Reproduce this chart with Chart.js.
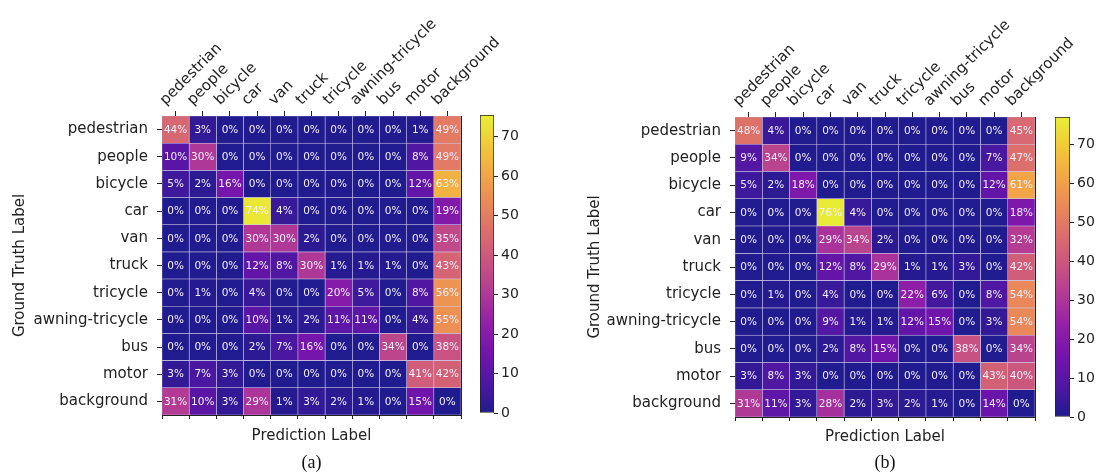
<!DOCTYPE html>
<html>
<head>
<meta charset="utf-8">
<script src="https://cdn.jsdelivr.net/npm/chart.js@4.4.1/dist/chart.umd.min.js"></script>
<style>
    body { margin: 0; background: #fff; }
    #wrap { position: relative; width: 1100px; height: 476px; overflow: hidden; }
    canvas { position: absolute; top: 0; }
</style>
</head>
<body>
<div id="wrap">
    <canvas id="matA" width="520" height="476" style="left:0px"></canvas>
    <canvas id="barA" width="60" height="476" style="left:470px"></canvas>
    <canvas id="matB" width="540" height="476" style="left:560px"></canvas>
    <canvas id="barB" width="55" height="476" style="left:1045px"></canvas>
</div>
<script>
// Data
const categories = ['pedestrian', 'people', 'bicycle', 'car', 'van', 'truck', 'tricycle',
    'awning-tricycle', 'bus', 'motor', 'background'];

// rows = ground truth, columns = prediction (percent)
const valuesA = [
    [44, 3, 0, 0, 0, 0, 0, 0, 0, 1, 49],
    [10, 30, 0, 0, 0, 0, 0, 0, 0, 8, 49],
    [5, 2, 16, 0, 0, 0, 0, 0, 0, 12, 63],
    [0, 0, 0, 74, 4, 0, 0, 0, 0, 0, 19],
    [0, 0, 0, 30, 30, 2, 0, 0, 0, 0, 35],
    [0, 0, 0, 12, 8, 30, 1, 1, 1, 0, 43],
    [0, 1, 0, 4, 0, 0, 20, 5, 0, 8, 56],
    [0, 0, 0, 10, 1, 2, 11, 11, 0, 4, 55],
    [0, 0, 0, 2, 7, 16, 0, 0, 34, 0, 38],
    [3, 7, 3, 0, 0, 0, 0, 0, 0, 41, 42],
    [31, 10, 3, 29, 1, 3, 2, 1, 0, 15, 0]
];

const valuesB = [
    [48, 4, 0, 0, 0, 0, 0, 0, 0, 0, 45],
    [9, 34, 0, 0, 0, 0, 0, 0, 0, 7, 47],
    [5, 2, 18, 0, 0, 0, 0, 0, 0, 12, 61],
    [0, 0, 0, 76, 4, 0, 0, 0, 0, 0, 18],
    [0, 0, 0, 29, 34, 2, 0, 0, 0, 0, 32],
    [0, 0, 0, 12, 8, 29, 1, 1, 3, 0, 42],
    [0, 1, 0, 4, 0, 0, 22, 6, 0, 8, 54],
    [0, 0, 0, 9, 1, 1, 12, 15, 0, 3, 54],
    [0, 0, 0, 2, 8, 15, 0, 0, 38, 0, 34],
    [3, 8, 3, 0, 0, 0, 0, 0, 0, 43, 40],
    [31, 11, 3, 28, 2, 3, 2, 1, 0, 14, 0]
];

const colorbarTicks = [0, 10, 20, 30, 40, 50, 60, 70];
const colorMaxA = 75.5;
const colorMaxB = 77;

// plasma colormap
const plasmaStops = ['#0d0887', '#41049d', '#6a00a8', '#8f0da4', '#b12a90', '#cc4778',
    '#e16462', '#f2844b', '#fca636', '#fcce25', '#f0f921'];
// the scanned figure is a bit washed out, so blend a little grey in
const haze = [170, 165, 195];
const hazeAmount = 0.12;

function hexToRgb(h) {
    return [1, 3, 5].map(i => parseInt(h.slice(i, i + 2), 16));
}

function soften(rgb) {
    return rgb.map((v, k) => Math.round(v * (1 - hazeAmount) + haze[k] * hazeAmount));
}

function plasma(t) {
    t = Math.min(1, Math.max(0, t));
    const pos = t * (plasmaStops.length - 1);
    const i = Math.min(Math.floor(pos), plasmaStops.length - 2);
    const f = pos - i;
    const a = hexToRgb(plasmaStops[i]);
    const b = hexToRgb(plasmaStops[i + 1]);
    const rgb = soften(a.map((v, k) => v + (b[k] - v) * f));
    return `rgb(${rgb.join(',')})`;
}

function plasmaGradient(chart) {
    const area = chart.chartArea;
    if (!area) return plasma(0);
    const g = chart.ctx.createLinearGradient(0, area.bottom, 0, area.top);
    plasmaStops.forEach((c, i) => {
        g.addColorStop(i / (plasmaStops.length - 1), `rgb(${soften(hexToRgb(c)).join(',')})`);
    });
    return g;
}

Chart.defaults.font.family = "'DejaVu Sans', sans-serif";
Chart.defaults.color = '#222';
Chart.defaults.animation = false;

// percentage text in each cell
const cellText = {
    id: 'cellText',
    afterDatasetsDraw(chart, args, opts) {
        const ctx = chart.ctx;
        ctx.save();
        ctx.font = "10.5px 'DejaVu Sans'";
        ctx.fillStyle = '#f3eefc';
        ctx.textAlign = 'center';
        ctx.textBaseline = 'middle';
        chart.data.datasets.forEach((ds, col) => {
            chart.getDatasetMeta(col).data.forEach((bar, row) => {
                const p = bar.getCenterPoint();
                ctx.fillText(opts.values[row][col] + '%', p.x, p.y + 0.5);
            });
        });
        ctx.restore();
    }
};

function drawMatrix(id, values, vmax, tag, box) {
    new Chart(document.getElementById(id), {
        type: 'bar',
        data: {
            labels: categories,
            datasets: categories.map((name, col) => ({
                label: name,
                data: categories.map(() => 1),
                backgroundColor: values.map(row => plasma(row[col] / vmax)),
                borderColor: 'rgba(205,200,235,0.8)',
                borderWidth: 0.6,
                borderSkipped: false,
                barPercentage: 1,
                categoryPercentage: 1
            }))
        },
        options: {
            indexAxis: 'y',
            responsive: false,
            layout: { padding: 0 },
            plugins: {
                legend: { display: false },
                tooltip: { enabled: false },
                subtitle: {
                    display: true,
                    text: tag,
                    position: 'bottom',
                    fullSize: false,
                    color: '#111',
                    font: { family: "'Liberation Serif', serif", size: 18, weight: 'normal' },
                    padding: { top: 0, bottom: 2 }
                },
                cellText: { values }
            },
            scales: {
                x: {
                    type: 'linear',
                    position: 'top',
                    stacked: true,
                    min: 0,
                    max: 11,
                    z: 1,
                    afterBuildTicks: s => { s.ticks = categories.map((c, i) => ({ value: i + 0.5 })); },
                    afterFit: s => { s.height = box.top; s.paddingLeft = 0; s.paddingRight = 0; },
                    ticks: {
                        callback: (v, i) => categories[i],
                        autoSkip: false,
                        minRotation: 45,
                        maxRotation: 45,
                        font: { size: 15 },
                        padding: 2
                    },
                    grid: { drawOnChartArea: false, tickLength: 5, color: '#222' },
                    border: { display: true, color: '#222' }
                },
                x2: {
                    type: 'linear',
                    position: 'bottom',
                    min: 0,
                    max: 11,
                    z: 1,
                    afterFit: s => { s.height = box.bottom; s.paddingLeft = 0; s.paddingRight = 0; },
                    ticks: { stepSize: 1, display: false },
                    grid: { drawOnChartArea: false, tickLength: 4, color: '#222' },
                    border: { display: true, color: '#222' },
                    title: {
                        display: true,
                        text: 'Prediction Label',
                        font: { size: 15 },
                        padding: { top: 0, bottom: box.xTitlePad }
                    }
                },
                y: {
                    type: 'category',
                    position: 'left',
                    stacked: true,
                    offset: true,
                    z: 1,
                    afterFit: s => { s.width = box.left; },
                    ticks: { font: { size: 15 }, padding: 9 },
                    grid: { offset: false, drawOnChartArea: false, tickLength: 5, color: '#222' },
                    border: { display: true, color: '#222' },
                    title: {
                        display: true,
                        text: 'Ground Truth Label',
                        font: { size: 15 },
                        padding: { top: box.yTitlePad, bottom: 0 }
                    }
                },
                y2: {
                    type: 'linear',
                    position: 'right',
                    min: 0,
                    max: 1,
                    z: 1,
                    afterFit: s => { s.width = box.right; },
                    ticks: { display: false },
                    grid: { display: false },
                    border: { display: true, color: '#222' }
                }
            }
        },
        plugins: [cellText]
    });
}

function drawColorbar(id, vmax, box) {
    new Chart(document.getElementById(id), {
        type: 'bar',
        data: {
            labels: [''],
            datasets: [{
                data: [[0, vmax]],
                backgroundColor: c => plasmaGradient(c.chart),
                borderColor: '#222',
                borderWidth: 1,
                borderSkipped: false,
                barPercentage: 1,
                categoryPercentage: 1
            }]
        },
        options: {
            responsive: false,
            layout: { padding: { left: 10, right: 0, top: box.top, bottom: box.bottom } },
            plugins: { legend: { display: false }, tooltip: { enabled: false } },
            scales: {
                x: { display: false },
                y: {
                    position: 'right',
                    min: 0,
                    max: vmax,
                    afterBuildTicks: s => { s.ticks = colorbarTicks.map(v => ({ value: v })); },
                    afterFit: s => { s.width = box.axis; },
                    ticks: { font: { size: 14 }, padding: 3 },
                    grid: { drawOnChartArea: false, tickLength: 4, color: '#222' },
                    border: { display: false }
                }
            }
        }
    });
}

drawMatrix('matA', valuesA, colorMaxA, '(a)',
    { top: 116, bottom: 37.4, left: 162, right: 59, xTitlePad: 7.4, yTitlePad: 11 });
drawColorbar('barA', colorMaxA, { top: 115, bottom: 63, axis: 36 });

drawMatrix('matB', valuesB, colorMaxB, '(b)',
    { top: 117, bottom: 35.4, left: 175, right: 65, xTitlePad: 6.4, yTitlePad: 26 });
drawColorbar('barB', colorMaxB, { top: 117, bottom: 59, axis: 30 });
</script>
</body>
</html>
